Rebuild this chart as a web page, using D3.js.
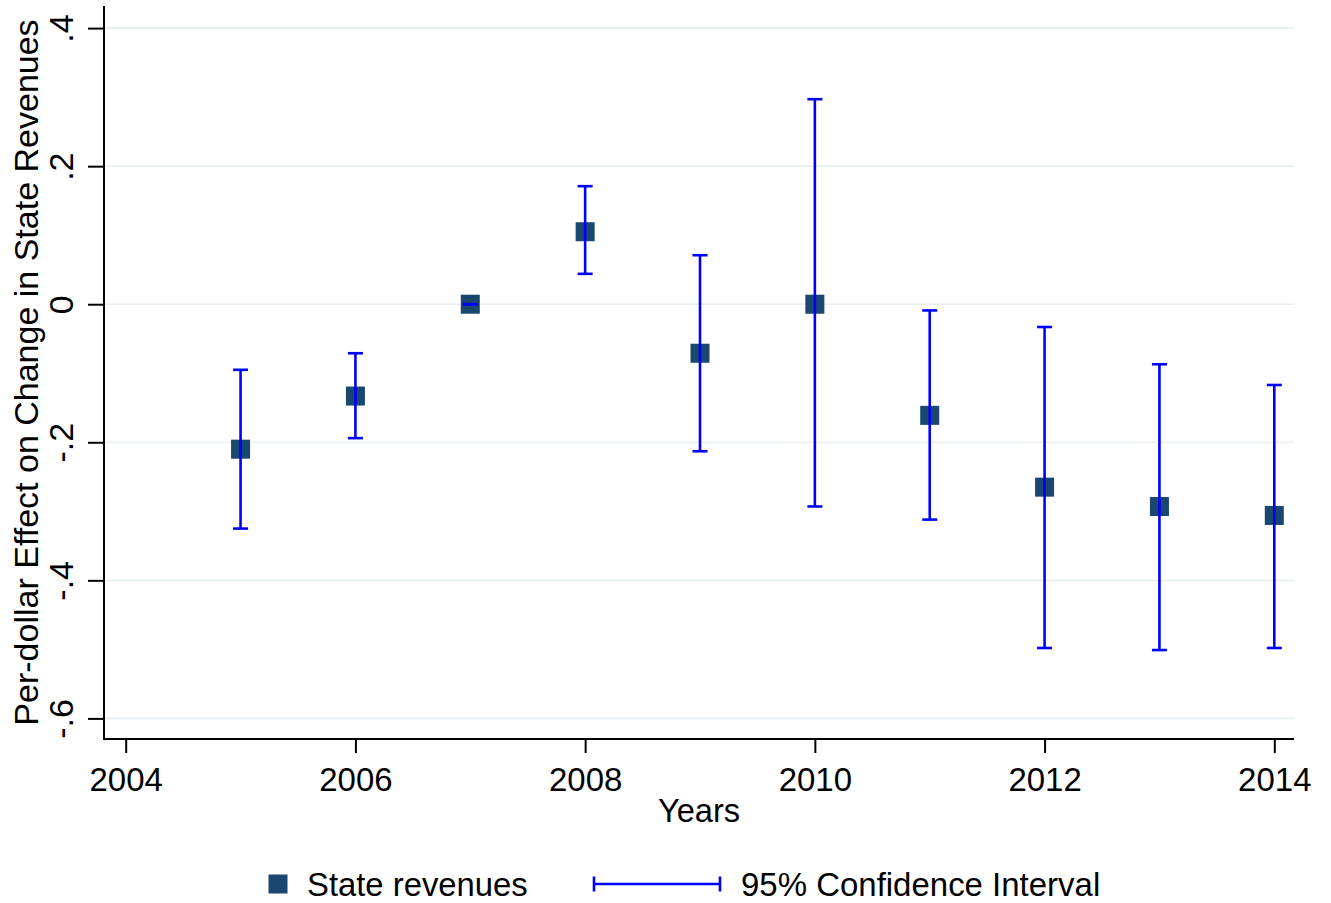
<!DOCTYPE html>
<html>
<head>
<meta charset="utf-8">
<script src="https://cdn.jsdelivr.net/npm/d3@7"></script>
<style>
  html, body { margin: 0; padding: 0; background: #ffffff; }
  svg { display: block; }
  text { font-family: "Liberation Sans", Arial, Helvetica, sans-serif; fill: #000; }
</style>
</head>
<body>
<svg id="chart" width="1331" height="903"></svg>
<script>
// Event-study estimates by year with 95% confidence intervals
const years = [2005, 2006, 2007, 2008, 2009, 2010, 2011, 2012, 2013, 2014];
const estimates = [-0.210, -0.133, 0.000, 0.105, -0.071, 0.000, -0.161, -0.265, -0.293, -0.306];
const ciLow  = [-0.325, -0.194, 0.000, 0.044, -0.213, -0.293, -0.312, -0.498, -0.501, -0.498];
const ciHigh = [-0.095, -0.071, 0.000, 0.171, 0.071, 0.297, -0.009, -0.033, -0.087, -0.117];

const xTicks = [2004, 2006, 2008, 2010, 2012, 2014];
const yTicks = [-0.6, -0.4, -0.2, 0, 0.2, 0.4];
const yTickLabels = ["-.6", "-.4", "-.2", "0", ".2", ".4"];

const xTitle = "Years";
const yTitle = "Per-dollar Effect on Change in State Revenues";
const legendLabels = ["State revenues", "95% Confidence Interval"];

const navy = "#1a476f";
const ciBlue = "#0000ff";
const gridColor = "#e8eff3";
const fontSize = 34;

const svg = d3.select("#chart");

// plot region
const plot = { left: 104, right: 1294, top: 6, bottom: 739 };

const x = d3.scaleLinear().domain([2004, 2014]).range([125.7, 1274.3]);
const y = d3.scaleLinear().domain([-0.6, 0.4]).range([718.4, 28.1]);

const rows = years.map((yr, i) => ({ yr, est: estimates[i], lo: ciLow[i], hi: ciHigh[i] }));

// horizontal grid lines
svg.append("g")
  .selectAll("line")
  .data(yTicks)
  .join("line")
  .attr("x1", plot.left).attr("x2", plot.right)
  .attr("y1", d => y(d)).attr("y2", d => y(d))
  .attr("stroke", gridColor).attr("stroke-width", 1.6);

// x axis
const xAxis = svg.append("g")
  .attr("transform", `translate(0,${plot.bottom})`)
  .call(d3.axisBottom(x).tickValues(xTicks).tickFormat(d3.format("d")).tickSizeOuter(0).tickSize(14).tickPadding(14));
xAxis.select(".domain").remove();
xAxis.selectAll(".tick line").attr("stroke", "#000").attr("stroke-width", 2);
xAxis.selectAll(".tick text")
  .style("font-size", fontSize + "px")
  .style("font-family", "'Liberation Sans', Arial, sans-serif")
  .attr("fill", "#000")
  .attr("transform", "scale(0.97,1)");

// y axis
const yAxis = svg.append("g")
  .attr("transform", `translate(${plot.left},0)`)
  .call(d3.axisLeft(y).tickValues(yTicks).tickFormat((d, i) => yTickLabels[i]).tickSizeOuter(0).tickSize(16));
yAxis.select(".domain").remove();
yAxis.selectAll(".tick line").attr("stroke", "#000").attr("stroke-width", 2);
yAxis.selectAll(".tick text")
  .style("font-size", fontSize + "px")
  .style("font-family", "'Liberation Sans', Arial, sans-serif")
  .attr("fill", "#000")
  .attr("x", null).attr("dy", null)
  .attr("text-anchor", "middle")
  .attr("transform", "translate(-31,0) rotate(-90)");

// axis lines
svg.append("line")
  .attr("x1", plot.left).attr("x2", plot.right)
  .attr("y1", plot.bottom).attr("y2", plot.bottom)
  .attr("stroke", "#000").attr("stroke-width", 2);
svg.append("line")
  .attr("x1", plot.left).attr("x2", plot.left)
  .attr("y1", plot.top).attr("y2", plot.bottom + 1)
  .attr("stroke", "#000").attr("stroke-width", 2);

// point estimates
const markerSize = 19;
svg.append("g")
  .selectAll("rect")
  .data(rows)
  .join("rect")
  .attr("x", d => x(d.yr) - markerSize / 2)
  .attr("y", d => y(d.est) - markerSize / 2)
  .attr("width", markerSize).attr("height", markerSize)
  .attr("fill", navy);

// confidence interval caps and whiskers
const capHalf = 7.5;
const ci = svg.append("g").attr("stroke", ciBlue).attr("stroke-width", 2.6).attr("fill", "none");
ci.selectAll("line.whisker")
  .data(rows)
  .join("line").attr("class", "whisker")
  .attr("x1", d => x(d.yr)).attr("x2", d => x(d.yr))
  .attr("y1", d => y(d.lo)).attr("y2", d => y(d.hi));
ci.selectAll("line.caplo")
  .data(rows)
  .join("line").attr("class", "caplo")
  .attr("x1", d => x(d.yr) - capHalf).attr("x2", d => x(d.yr) + capHalf)
  .attr("y1", d => y(d.lo)).attr("y2", d => y(d.lo));
ci.selectAll("line.caphi")
  .data(rows)
  .join("line").attr("class", "caphi")
  .attr("x1", d => x(d.yr) - capHalf).attr("x2", d => x(d.yr) + capHalf)
  .attr("y1", d => y(d.hi)).attr("y2", d => y(d.hi));

// axis titles
svg.append("text")
  .attr("transform", `translate(${(plot.left + plot.right) / 2},822) scale(0.96,1)`)
  .attr("text-anchor", "middle")
  .style("font-size", fontSize + "px")
  .text(xTitle);

svg.append("text")
  .attr("transform", `translate(38,${(plot.top + plot.bottom) / 2}) rotate(-90)`)
  .attr("text-anchor", "middle")
  .style("font-size", fontSize + "px")
  .text(yTitle);

// legend
const legendY = 884;
const legend = svg.append("g");
legend.append("rect")
  .attr("x", 278 - markerSize / 2).attr("y", legendY - markerSize / 2)
  .attr("width", markerSize).attr("height", markerSize)
  .attr("fill", navy);
legend.append("text")
  .attr("transform", `translate(307,${legendY + 12}) scale(0.965,1)`)
  .style("font-size", fontSize + "px")
  .text(legendLabels[0]);

const lg = legend.append("g").attr("stroke", ciBlue).attr("stroke-width", 2.6);
lg.append("line").attr("x1", 594).attr("x2", 720).attr("y1", legendY).attr("y2", legendY);
lg.append("line").attr("x1", 594).attr("x2", 594).attr("y1", legendY - capHalf).attr("y2", legendY + capHalf);
lg.append("line").attr("x1", 720).attr("x2", 720).attr("y1", legendY - capHalf).attr("y2", legendY + capHalf);
legend.append("text")
  .attr("transform", `translate(741,${legendY + 12}) scale(0.97,1)`)
  .style("font-size", fontSize + "px")
  .text(legendLabels[1]);
</script>
</body>
</html>
